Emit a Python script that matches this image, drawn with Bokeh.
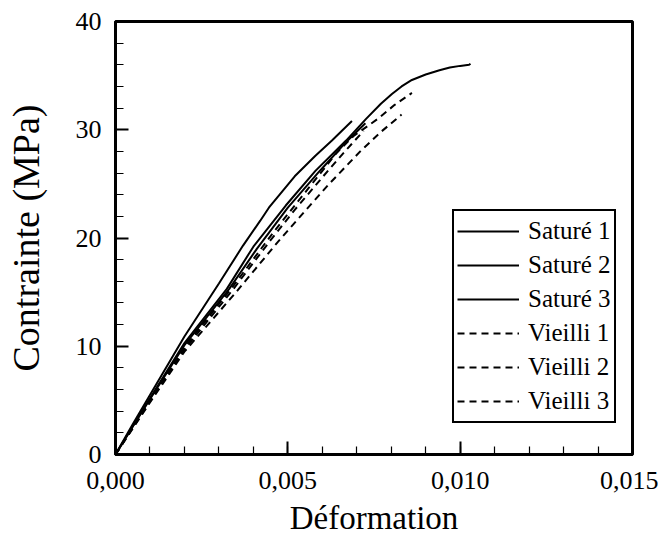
from bokeh.plotting import figure
from bokeh.models import Range1d, FixedTicker, Legend, LegendItem
from bokeh.embed import file_html
from bokeh.resources import INLINE
import numpy as np

# ---- data ----
sat1_x = [0, 0.0005, 0.001, 0.002, 0.00323, 0.004, 0.00494, 0.0058, 0.00669, 0.00727, 0.0077, 0.00802, 0.0083, 0.0086, 0.009, 0.0094, 0.0097, 0.0100, 0.01026, 0.0103]
sat1_y = [0, 2.6, 5.2, 10.3, 15.3, 19.2, 23.0, 26.2, 29.0, 31.0, 32.4, 33.3, 34.0, 34.6, 35.1, 35.5, 35.75, 35.9, 36.0, 36.1]

sat2_x = [0, 0.0005, 0.001, 0.002, 0.003, 0.0037, 0.0042, 0.00445, 0.0052, 0.0058, 0.00628, 0.00686]
sat2_y = [0, 2.8, 5.5, 10.9, 15.8, 19.3, 21.6, 22.8, 25.7, 27.6, 29.0, 30.8]

sat3_x = [0, 0.0005, 0.001, 0.002, 0.0033, 0.0041, 0.0050, 0.0059, 0.0067, 0.00725]
sat3_y = [0, 2.6, 5.1, 10.1, 15.3, 19.0, 22.8, 26.1, 28.9, 30.6]

vie1_x = [0, 0.001, 0.002, 0.0034, 0.0046, 0.0056, 0.0064, 0.0069, 0.00765, 0.0081, 0.0086]
vie1_y = [0, 5.0, 9.9, 15.5, 20.6, 24.6, 27.8, 29.4, 31.1, 32.3, 33.4]

vie2_x = [0, 0.001, 0.002, 0.0035, 0.0047, 0.0055, 0.0062, 0.0071, 0.0077, 0.0083]
vie2_y = [0, 4.8, 9.5, 15.0, 19.6, 22.5, 25.0, 28.0, 29.8, 31.4]

vie3_x = [0, 0.001, 0.002, 0.0034, 0.0045, 0.0052, 0.0060, 0.0066, 0.0072]
vie3_y = [0, 4.9, 9.7, 15.2, 19.8, 22.6, 25.6, 27.8, 29.9]

series_names = ["Saturé 1", "Saturé 2", "Saturé 3", "Vieilli 1", "Vieilli 2", "Vieilli 3"]

x_ticks = [0.0, 0.005, 0.010, 0.015]
x_tick_labels = ["0,000", "0,005", "0,010", "0,015"]
y_ticks = [0, 10, 20, 30, 40]
y_tick_labels = ["0", "10", "20", "30", "40"]

x_label = "Déformation"
y_label = "Contrainte (MPa)"

FONT = "Liberation Serif"

p = figure(width=658, height=538, output_backend="svg", toolbar_location=None,
           x_range=Range1d(0, 0.015), y_range=Range1d(0, 40),
           min_border_left=115, min_border_right=26, min_border_top=21, min_border_bottom=84)

p.background_fill_color = "white"
p.border_fill_color = "white"
p.grid.visible = False
p.outline_line_color = "black"
p.outline_line_width = 3
p.outline_line_alpha = 1.0

series = [
    (sat1_x, sat1_y, "solid"),
    (sat2_x, sat2_y, "solid"),
    (sat3_x, sat3_y, "solid"),
    (vie1_x, vie1_y, "7 5"),
    (vie2_x, vie2_y, "7 5"),
    (vie3_x, vie3_y, "7 5"),
]
items = []
for (xs, ys, dash), name in zip(series, series_names):
    r = p.line(xs, ys, line_color="black", line_width=2, line_dash=dash)
    items.append(LegendItem(label=name, renderers=[r]))

# axes
p.xaxis.ticker = FixedTicker(ticks=x_ticks, minor_ticks=list(np.arange(0, 0.0151, 0.001)))
p.yaxis.ticker = FixedTicker(ticks=y_ticks, minor_ticks=list(np.arange(0, 40.1, 2)))
p.xaxis.major_label_overrides = {t: l for t, l in zip(x_ticks, x_tick_labels)}
p.yaxis.major_label_overrides = {t: l for t, l in zip(y_ticks, y_tick_labels)}

for ax in (p.xaxis, p.yaxis):
    ax.axis_line_width = 3
    ax.axis_line_color = "black"
    ax.major_tick_in = 13
    ax.major_tick_out = 0
    ax.minor_tick_in = 8
    ax.minor_tick_out = 0
    ax.major_tick_line_width = 2
    ax.minor_tick_line_width = 1.2
    ax.major_tick_line_color = "black"
    ax.minor_tick_line_color = "black"
    ax.major_label_text_font = FONT
    ax.major_label_text_font_size = "26px"
    ax.major_label_text_color = "black"
    ax.axis_label_text_font = FONT
    ax.axis_label_text_font_style = "normal"
    ax.axis_label_text_color = "black"

p.xaxis.axis_label = x_label
p.yaxis.axis_label = y_label
p.xaxis.axis_label_text_font_size = "33px"
p.yaxis.axis_label_text_font_size = "38px"
p.xaxis.major_label_standoff = 17
p.yaxis.major_label_standoff = 14
p.xaxis.axis_label_standoff = 8
p.yaxis.axis_label_standoff = 26

legend = Legend(items=items, location=(337, 31))
legend.label_text_font = FONT
legend.label_text_font_size = "25px"
legend.label_text_color = "black"
legend.glyph_width = 62
legend.glyph_height = 34
legend.label_height = 34
legend.label_standoff = 9
legend.spacing = 0
legend.padding = 3
legend.margin = 0
legend.border_line_color = "black"
legend.border_line_width = 2
legend.border_line_alpha = 1.0
legend.background_fill_color = "white"
legend.background_fill_alpha = 1.0
p.add_layout(legend)

open("out.html", "w").write(file_html(p, INLINE))
